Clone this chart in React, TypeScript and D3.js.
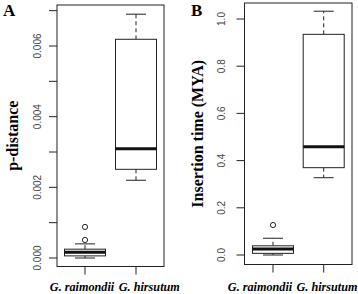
import React from "react";
import * as d3 from "d3";

const categories = ["G. raimondii", "G. hirsutum"];

// Panel A: p-distance
const pdLow = [0.0, 0.0022];
const pdQ1 = [0.00006, 0.00251];
const pdMedian = [0.00016, 0.00309];
const pdQ3 = [0.00025, 0.00619];
const pdHigh = [0.0004, 0.0069];
const pdOutliers = [[0.00051, 0.00088], []];
const pdTicks = [0, 0.001, 0.002, 0.003, 0.004, 0.005, 0.006, 0.007];
const pdTickLabels = ["0.000", "", "0.002", "", "0.004", "", "0.006", ""];

// Panel B: insertion time (MYA)
const itLow = [0.0, 0.3275];
const itQ1 = [0.007, 0.37];
const itMedian = [0.025, 0.459];
const itQ3 = [0.039, 0.935];
const itHigh = [0.071, 1.033];
const itOutliers = [[0.127], []];
const itTicks = [0, 0.2, 0.4, 0.6, 0.8, 1.0];
const itTickLabels = ["0.0", "0.2", "0.4", "0.6", "0.8", "1.0"];

type PanelProps = {
  letter: string;
  letterX: number;
  yLabel: string;
  box: { x0: number; x1: number; y0: number; y1: number };
  y: d3.ScaleLinear<number, number>;
  x: d3.ScalePoint<string>;
  low: number[];
  q1: number[];
  med: number[];
  q3: number[];
  high: number[];
  outliers: number[][];
  ticks: number[];
  tickLabels: string[];
  yLabelX: number;
  tickLabelX: number;
  labelShift: number[];
};

function Panel(p: PanelProps) {
  const { box, x, y } = p;
  const halfW = 20.5;
  const cap = 10;
  const cy = (box.y0 + box.y1) / 2;
  return (
    <g>
      <text x={p.letterX} y={16} fontFamily="'Liberation Serif', 'Times New Roman', serif" fontWeight="bold" fontSize={17}>
        {p.letter}
      </text>
      <text
        transform={`translate(${p.yLabelX},${cy}) rotate(-90)`}
        textAnchor="middle"
        dy="0.35em"
        fontFamily="'Liberation Serif', 'Times New Roman', serif"
        fontWeight="bold"
        fontSize={16}
      >
        {p.yLabel}
      </text>
      <rect x={box.x0} y={box.y0} width={box.x1 - box.x0} height={box.y1 - box.y0} fill="none" stroke="#222" strokeWidth={1} />
      {p.ticks.map((t, i) => (
        <g key={i}>
          <line x1={box.x0 - 8} x2={box.x0} y1={y(t)} y2={y(t)} stroke="#222" />
          {p.tickLabels[i] && (
            <text
              transform={`translate(${p.tickLabelX},${y(t)}) rotate(-90)`}
              textAnchor="middle"
              dy="0.35em"
              fontFamily="'Liberation Sans', Arial, sans-serif"
              fontSize={10}
              fill="#444"
            >
              {p.tickLabels[i]}
            </text>
          )}
        </g>
      ))}
      {categories.map((c, i) => {
        const cx = x(c) as number;
        return (
          <g key={c}>
            <line x1={cx} x2={cx} y1={box.y1} y2={box.y1 + 8} stroke="#222" />
            <text
              x={cx + p.labelShift[i]}
              y={290.5}
              textAnchor="middle"
              fontFamily="'Liberation Serif', 'Times New Roman', serif"
              fontWeight="bold"
              fontStyle="italic"
              fontSize={12.2}
            >
              {c}
            </text>
            <line x1={cx} x2={cx} y1={y(p.q3[i])} y2={y(p.high[i])} stroke="#222" strokeDasharray="4,3" />
            <line x1={cx} x2={cx} y1={y(p.q1[i])} y2={y(p.low[i])} stroke="#222" strokeDasharray="4,3" />
            <line x1={cx - cap} x2={cx + cap} y1={y(p.high[i])} y2={y(p.high[i])} stroke="#222" />
            <line x1={cx - cap} x2={cx + cap} y1={y(p.low[i])} y2={y(p.low[i])} stroke="#222" />
            <rect
              x={cx - halfW}
              y={y(p.q3[i])}
              width={halfW * 2}
              height={y(p.q1[i]) - y(p.q3[i])}
              fill="white"
              stroke="#222"
            />
            <line x1={cx - halfW} x2={cx + halfW} y1={y(p.med[i])} y2={y(p.med[i])} stroke="#111" strokeWidth={3} />
            {p.outliers[i].map((o, j) => (
              <circle key={j} cx={cx} cy={y(o)} r={2.6} fill="none" stroke="#222" />
            ))}
          </g>
        );
      })}
    </g>
  );
}

export default function App() {
  const boxA = { x0: 57, x1: 164, y0: 5, y1: 266.5 };
  const yA = d3.scaleLinear().domain([0, 0.006]).range([258, 46]);
  const xA = d3.scalePoint<string>().domain(categories).range([85, 136]);

  const boxB = { x0: 244.5, x1: 352, y0: 3, y1: 264.5 };
  const yB = d3.scaleLinear().domain([0, 1]).range([255, 19]);
  const xB = d3.scalePoint<string>().domain(categories).range([273, 323.7]);

  return (
    <svg width={358} height={294} style={{ position: "absolute", left: 0, top: 0, background: "white" }}>
      <rect width={358} height={294} fill="white" />
      <Panel
        letter="A"
        letterX={3}
        yLabel="p-distance"
        box={boxA}
        y={yA}
        x={xA}
        low={pdLow}
        q1={pdQ1}
        med={pdMedian}
        q3={pdQ3}
        high={pdHigh}
        outliers={pdOutliers}
        ticks={pdTicks}
        tickLabels={pdTickLabels}
        yLabelX={12}
        tickLabelX={37}
        labelShift={[-3, 13.3]}
      />
      <Panel
        letter="B"
        letterX={191}
        yLabel="Insertion time (MYA)"
        box={boxB}
        y={yB}
        x={xB}
        low={itLow}
        q1={itQ1}
        med={itMedian}
        q3={itQ3}
        high={itHigh}
        outliers={itOutliers}
        ticks={itTicks}
        tickLabels={itTickLabels}
        yLabelX={197}
        tickLabelX={221}
        labelShift={[-13, 3.3]}
      />
    </svg>
  );
}
